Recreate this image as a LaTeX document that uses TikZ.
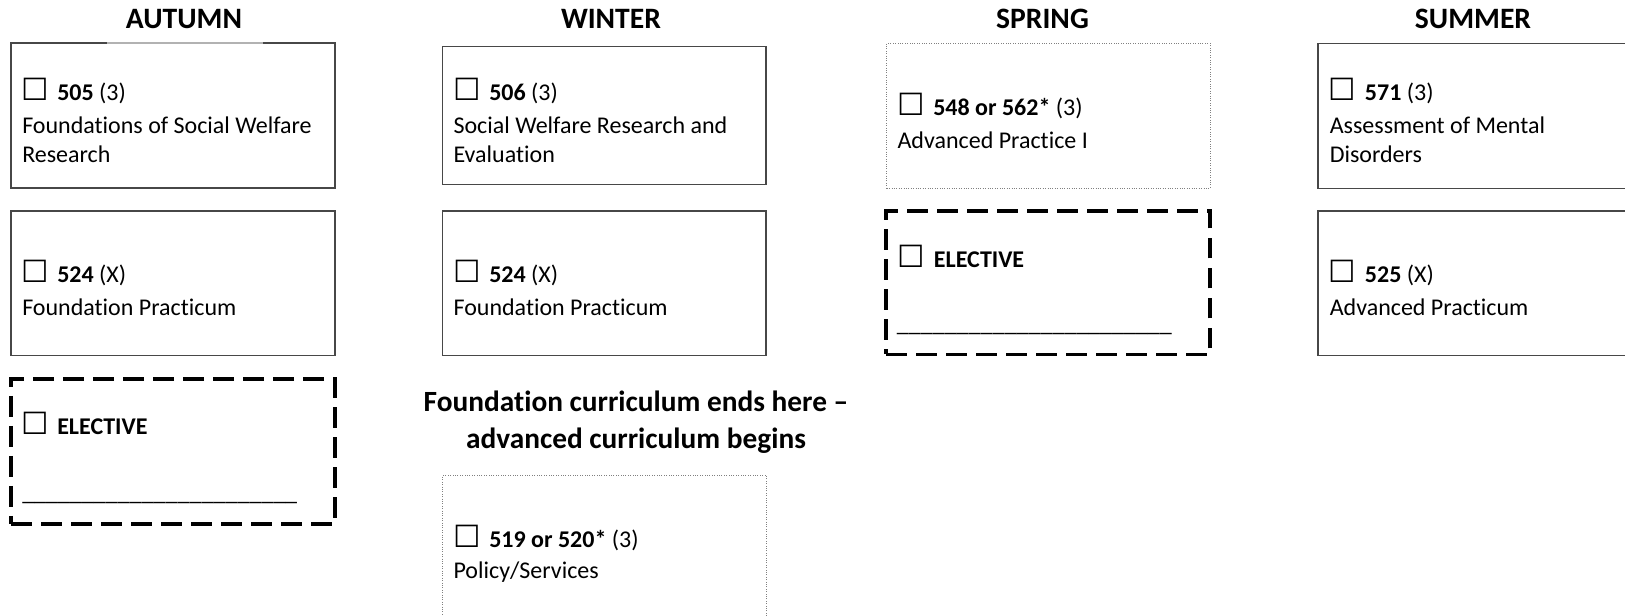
\documentclass[tikz,border=0pt]{standalone}
\usepackage{fontspec}
\setmainfont[Ligatures={NoCommon}]{Carlito}
\newfontfamily\symfont{DejaVu Sans}
\usetikzlibrary{fit}
\newcommand\chk{\makebox[24.75pt][l]{\kern-2.4pt{\symfont\fontsize{23}{23}\selectfont\char"2610}}}
\begin{document}
\begin{tikzpicture}[x=0.75pt,y=-0.75pt,
  solidbox/.style={draw=black!72, line width=0.8pt, inner sep=0pt},
  dotbox/.style={draw=black!50, line width=0.6pt, dash pattern=on 0.6pt off 1.2pt, inner sep=0pt},
  dashbox/.style={draw=black, line width=2.4pt, dash pattern=on 15.5pt off 7pt, inner sep=0pt},
  season/.style={font=\fontsize{22.2}{26}\selectfont\bfseries, anchor=base, inner sep=0pt},
  midhead/.style={font=\fontsize{22}{27.5}\selectfont\bfseries, anchor=base, inner sep=0pt},
  txt/.style={font=\fontsize{18}{21.75}\selectfont, anchor=base west, inner sep=0pt},
]
\useasboundingbox (0,0) rectangle (1625,616);

% ---------- AUTUMN ----------
\node[season] (hA) at (184,28.3) {AUTUMN};
\node[solidbox, fit={(11,43)(335,188)}] (a1) {};
\draw[black!30, line width=0.8pt] (107,43) -- (263,43);
\node[txt] (a1l1) at (24,100.5) {\chk\textbf{505} (3)};
\node[txt] (a1l2) at (22,133.5) {Foundations of Social Welfare};
\node[txt] (a1l3) at (22,162.5) {Research};

\node[solidbox, fit={(11,211)(335,355.5)}] (a2) {};
\node[txt] (a2l1) at (24,282.5) {\chk\textbf{524} (X)};
\node[txt] (a2l2) at (22,316) {Foundation Practicum};

\node[dashbox, fit={(11,379)(335,524)}] (a3) {};
\node[txt] (a3l1) at (24,434.5) {\chk\textbf{ELECTIVE}};
\node[txt] (a3l2) at (22,500) {\_\_\_\_\_\_\_\_\_\_\_\_\_\_\_\_\_\_\_\_\_\_\_};

% ---------- WINTER ----------
\node[season] (hW) at (611,28.3) {WINTER};
\node[solidbox, fit={(442.5,46.7)(766,184.3)}] (w1) {};
\node[txt] (w1l1) at (456,100.5) {\chk\textbf{506} (3)};
\node[txt] (w1l2) at (453.3,133.5) {Social Welfare Research and};
\node[txt] (w1l3) at (453.3,162.5) {Evaluation};

\node[solidbox, fit={(442.5,211)(766,355.5)}] (w2) {};
\node[txt] (w2l1) at (456,282.5) {\chk\textbf{524} (X)};
\node[txt] (w2l2) at (453.3,316) {Foundation Practicum};

\node[midhead] (m1) at (636,411.7) {Foundation curriculum ends here –};
\node[midhead] (m2) at (636,448.3) {advanced curriculum begins};

\node[dotbox, fit={(442.7,475.7)(766.7,640)}] (w3) {};
\node[txt] (w3l1) at (456,547) {\chk\textbf{519 or 520*} (3)};
\node[txt] (w3l2) at (453.3,578.5) {Policy/Services};

% ---------- SPRING ----------
\node[season] (hS) at (1042.5,28.3) {SPRING};
\node[dotbox, fit={(886.7,43.3)(1210,188.3)}] (s1) {};
\node[txt] (s1l1) at (900,115.5) {\chk\textbf{548 or 562*} (3)};
\node[txt] (s1l2) at (897.3,148.5) {Advanced Practice I};

\node[dashbox, fit={(886,211)(1210,354.5)}] (s2) {};
\node[txt] (s2l1) at (900.7,268) {\chk\textbf{ELECTIVE}};
\node[txt] (s2l2) at (896.7,331.5) {\_\_\_\_\_\_\_\_\_\_\_\_\_\_\_\_\_\_\_\_\_\_\_};

% ---------- SUMMER ----------
\node[season] (hU) at (1473,28.3) {SUMMER};
\node[solidbox, fit={(1318,43.3)(1660,188.3)}] (u1) {};
\node[txt] (u1l1) at (1331.7,100.5) {\chk\textbf{571} (3)};
\node[txt] (u1l2) at (1329.5,133.5) {Assessment of Mental};
\node[txt] (u1l3) at (1329.5,162.5) {Disorders};

\node[solidbox, fit={(1318,211)(1660,355.5)}] (u2) {};
\node[txt] (u2l1) at (1331.7,282.5) {\chk\textbf{525} (X)};
\node[txt] (u2l2) at (1329.5,316) {Advanced Practicum};
\end{tikzpicture}
\end{document}
